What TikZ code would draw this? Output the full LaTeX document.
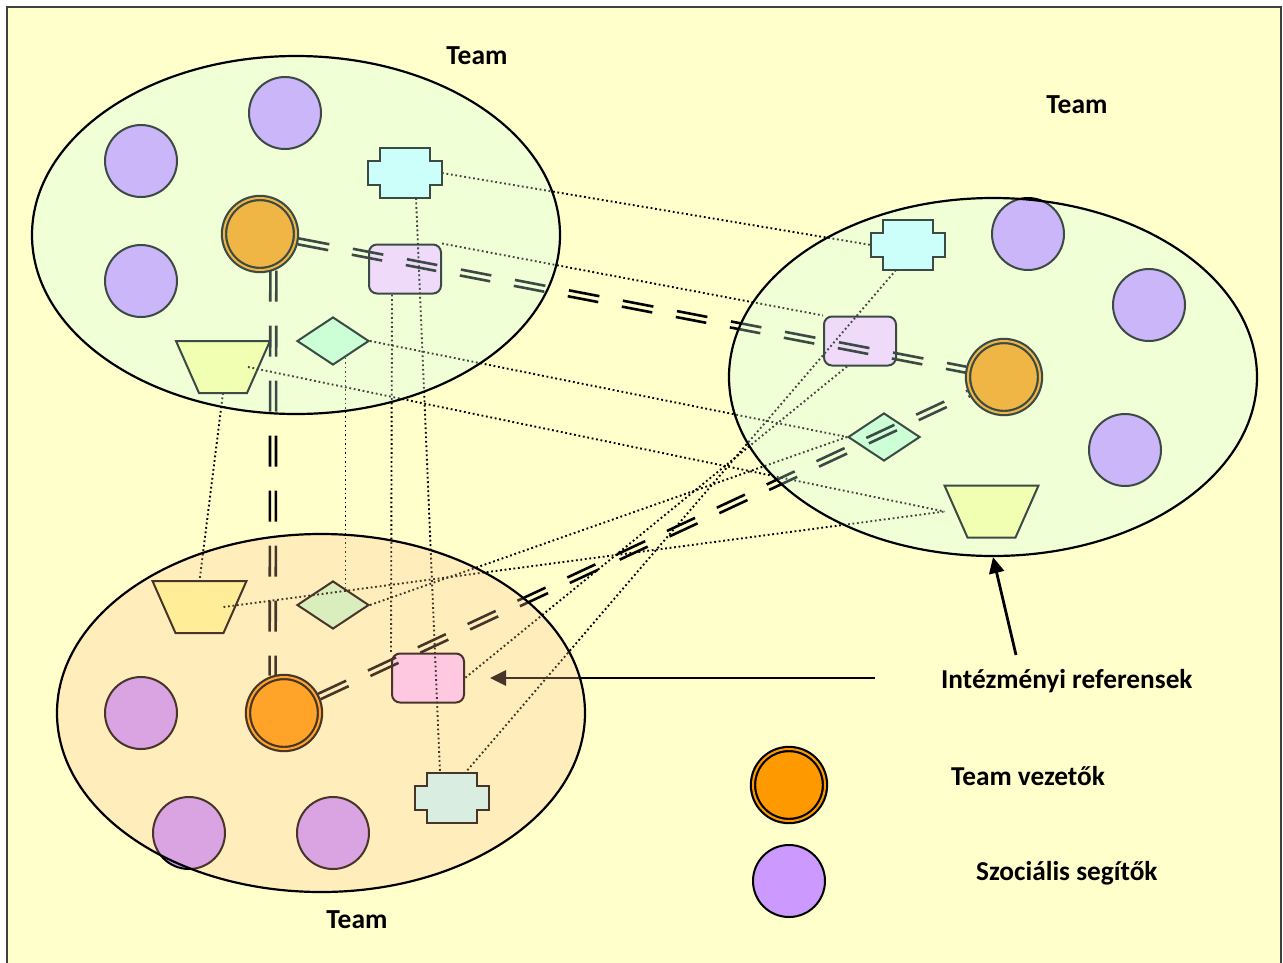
\documentclass[tikz,border=0pt]{standalone}
\usepackage{fontspec}
\setmainfont{Carlito}
\usepackage{tikz}
\usetikzlibrary{arrows.meta,calc,shapes.geometric}
\definecolor{PaperYellow}{HTML}{FFFFCC}
\definecolor{FrameGray}{HTML}{404040}
\definecolor{TealVeil}{HTML}{CDFFF0}
\definecolor{SandVeil}{HTML}{FFC094}
\definecolor{LeadOrange}{HTML}{FF9900}
\definecolor{HelperLilac}{HTML}{CC99FF}
\definecolor{CrossCyan}{HTML}{CCFFFF}
\definecolor{BoxPink}{HTML}{FFCCFF}
\definecolor{GemGreen}{HTML}{CCFFCC}
\definecolor{TrapYellow}{HTML}{FFFF99}

\newcommand{\crossnode}[3]{%
  \node[xbox] (#1) at (#2) {};
  \draw[shp, fill=#3] ([xshift=12pt]#1.north west) -- ([xshift=-12pt]#1.north east)
    -- ([xshift=-12pt,yshift=-13pt]#1.north east) -- ([yshift=-13pt]#1.north east)
    -- ([yshift=13pt]#1.south east) -- ([xshift=-12pt,yshift=13pt]#1.south east)
    -- ([xshift=-12pt]#1.south east) -- ([xshift=12pt]#1.south west)
    -- ([xshift=12pt,yshift=13pt]#1.south west) -- ([yshift=13pt]#1.south west)
    -- ([yshift=-13pt]#1.north west) -- ([xshift=12pt,yshift=-13pt]#1.north west) -- cycle;}
\newcommand{\trapnode}[3]{%
  \node[tbox] (#1) at (#2) {};
  \draw[shp, fill=#3] (#1.north west) -- (#1.north east) -- ([xshift=-23pt]#1.south east)
    -- ([xshift=23pt]#1.south west) -- cycle;}
\newcommand{\leadlink}[2]{%
  \path (#1) -- (#2) coordinate[pos=0] (lA) coordinate[pos=1] (lB);
  \draw[lead] ($(lA)!3pt!90:(lB)$) -- ($(lB)!3pt!-90:(lA)$);
  \draw[lead] ($(lA)!3pt!-90:(lB)$) -- ($(lB)!3pt!90:(lA)$);}

\begin{document}
\begin{tikzpicture}[x=1pt, y=-1pt,
  shp/.style={draw=black, line width=2pt},
  xbox/.style={rectangle, minimum width=74pt, minimum height=50pt, inner sep=0pt, outer sep=0pt},
  tbox/.style={rectangle, minimum width=94pt, minimum height=52pt, inner sep=0pt, outer sep=0pt},
  helper/.style={circle, shp, fill=HelperLilac, minimum size=72pt, inner sep=0pt},
  leader/.style={circle, draw=black, line width=2.2pt, double=LeadOrange, double distance=2pt,
                 fill=LeadOrange, minimum size=72pt, inner sep=0pt, outer sep=3pt},
  refbox/.style={rectangle, rounded corners=8pt, shp, fill=BoxPink, minimum width=72pt,
                 minimum height=49pt, inner sep=0pt},
  gem/.style={diamond, shp, fill=GemGreen, minimum width=72pt, minimum height=48pt, inner sep=0pt},
  team/.style={ellipse, draw=black, line width=2.2pt, fill opacity=0.29, draw opacity=1,
               minimum width=528pt, minimum height=358pt, inner sep=0pt},
  link/.style={line width=1.9pt, dash pattern=on 1.8pt off 2.7pt},
  lead/.style={line width=2.6pt, dash pattern=on 31pt off 24pt},
  arr/.style={line width=2.8pt, -{Triangle[length=16pt,width=15pt]}},
  title/.style={font=\fontsize{27.5}{30}\selectfont\bfseries, anchor=base, inner sep=0pt},
  lab/.style={font=\fontsize{27.3}{30}\selectfont\bfseries, anchor=base west, inner sep=0pt}]
\useasboundingbox (0,0) rectangle (1283,962);
\filldraw[fill=PaperYellow, draw=FrameGray, line width=2pt] (7,7) rectangle (1281,990);

\node[helper] (tc1) at (285,113) {};
\node[helper] (tc2) at (141,161) {};
\node[helper] (tc3) at (141,281) {};
\crossnode{tx}{405,173}{CrossCyan}
\node[refbox] (tp) at (405,269) {};
\node[gem] (td) at (333,341) {};
\trapnode{tt}{223,367}{TrapYellow}
\node[leader] (ltop) at (260,234) {};

\node[helper] (rc1) at (1028,234) {};
\node[helper] (rc2) at (1149,305) {};
\node[helper] (rc3) at (1125,450) {};
\crossnode{rx}{908,245}{CrossCyan}
\node[refbox] (rp) at (860,341) {};
\node[gem] (rd) at (884,437) {};
\trapnode{rt}{991.5,511.5}{TrapYellow}
\node[leader] (lright) at (1004,377) {};

\node[helper] (bc1) at (141,713) {};
\node[helper] (bc2) at (189,833) {};
\node[helper] (bc3) at (333,833) {};
\crossnode{bx}{452,798}{CrossCyan}
\node[refbox] (bp) at (428,678) {};
\node[gem] (bd) at (333,605) {};
\trapnode{bt}{199.5,607}{TrapYellow}
\node[leader] (lbot) at (284,713) {};

\leadlink{ltop}{lright}
\leadlink{ltop.-70}{lbot.107}
\leadlink{lbot}{lright}

\draw[link] (tx.east) -- (rx.west);
\draw[link] ($(tx.south)+(11,0)$) -- ($(bx.north)+(-12,0)$);
\draw[link] ($(rx.south)+(-12,0)$) -- ($(bx.north)+(13,0)$);
\draw[link] (tp.north east) -- (rp.north west);
\draw[link] ($(tp.south)+(-13,0)$) -- (bp.north west);
\draw[link] ($(rp.south)+(-13,0)$) -- (bp.east);
\draw[link] (td.east) -- (rd.west);
\draw[link] (td.-53) -- (bd.53);
\draw[link] (bd.east) -- (rd.west);
\draw[link] ($(tt.center)+(25,0)$) -- (rt.west);
\draw[link] ($(bt.center)+(24,0)$) -- (rt.west);
\draw[link] (tt.south) -- (bt.north);

\coordinate (a1) at (875,678);
\draw[arr, shorten >=25pt] (a1) -- (bp.east);

\node[team, fill=TealVeil] (tteam) at (296,235) {};
\node[team, fill=TealVeil] (rteam) at (993,377) {};
\node[team, fill=SandVeil, fill opacity=0.28] (bteam) at (321,713) {};

\coordinate (a2) at (1016,655);
\draw[arr] (a2) -- (rteam.south);

\node[title] (ttl) at (477,64) {Team};
\node[title] (rtl) at (1077,113) {Team};
\node[title] (btl) at (357,928) {Team};
\node[lab] (refl) at (941,688) {Intézményi referensek};

\node[leader] (legl) at (789,785) {};
\node[helper] (legs) at (789,881) {};
\node[lab] (legtl) at (951,785) {Team vezetők};
\node[lab] (legsl) at (976,880) {Szociális segítők};
\end{tikzpicture}
\end{document}
